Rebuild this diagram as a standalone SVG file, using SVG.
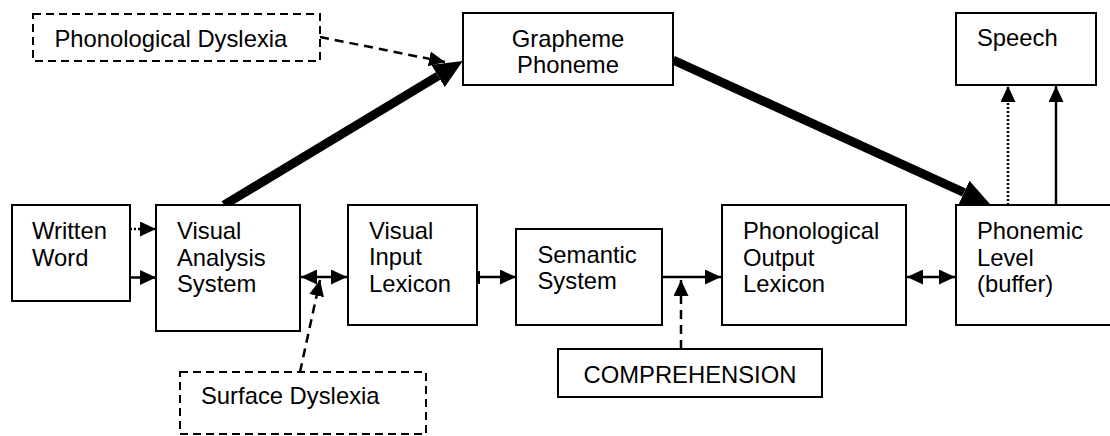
<svg xmlns="http://www.w3.org/2000/svg" width="1110" height="436" viewBox="0 0 1110 436">
  <style>
    .box { fill: #fff; stroke: #000; stroke-width: 2; }
    .dbox { fill: #fff; stroke: #000; stroke-width: 2; stroke-dasharray: 8 5; }
    text { font-family: "Liberation Sans", Arial, sans-serif; font-size: 23.8px; fill: #000; }
    .ln { fill: none; stroke: #000; stroke-width: 2.5; }
    .dash { stroke-dasharray: 9 6; }
    .dot { stroke-dasharray: 2 2; }
    .thick { fill: none; stroke: #000; stroke-width: 9; }
  </style>
  <defs>
    <marker id="ah" markerUnits="userSpaceOnUse" markerWidth="17" markerHeight="15" refX="16" refY="7.5" orient="auto-start-reverse">
      <path d="M0,0 L16,7.5 L0,15 Z" fill="#000"/>
    </marker>
    <marker id="bigah" markerUnits="userSpaceOnUse" markerWidth="30" markerHeight="26" refX="0" refY="13" orient="auto">
      <path d="M0,0 L29,13 L0,26 Z" fill="#000"/>
    </marker>
  </defs>

  <!-- connectors -->
  <g id="connectors">
    <!-- whole-word route, left to right -->
    <path class="ln dot" d="M130,229 L156,229" marker-end="url(#ah)"/>
    <path class="ln" d="M130,277.5 L156,277.5" marker-end="url(#ah)"/>
    <path class="ln" d="M301,277 L347,277" marker-start="url(#ah)" marker-end="url(#ah)"/>
    <rect x="477" y="271" width="3" height="13" fill="#000"/>
    <path class="ln" d="M477,277 L516,277" marker-end="url(#ah)"/>
    <path class="ln" d="M662,277 L721,277" marker-end="url(#ah)"/>
    <path class="ln" d="M907,277 L955,277" marker-start="url(#ah)" marker-end="url(#ah)"/>
    <!-- output to speech -->
    <path class="ln dot" d="M1008,205 L1008,86" marker-end="url(#ah)"/>
    <path class="ln" d="M1056,205 L1056,86" marker-end="url(#ah)"/>
    <!-- grapheme-phoneme route -->
    <path class="thick" d="M224,205 L438,76" marker-end="url(#bigah)"/>
    <path class="thick" d="M673,60 L964,192.5" marker-end="url(#bigah)"/>
    <!-- impairment and comprehension links -->
    <path class="ln dash" d="M320,37 L445,62" marker-end="url(#ah)"/>
    <path class="ln dash" d="M300,372 L320,280" marker-end="url(#ah)"/>
    <path class="ln dash" d="M681,349 L681,280" marker-end="url(#ah)"/>
  </g>

  <g id="written-word">
    <rect class="box" x="12" y="205" width="118" height="96"/>
    <text x="32" y="239">Written</text>
    <text x="32" y="265.7">Word</text>
  </g>

  <g id="visual-analysis">
    <rect class="box" x="156" y="205" width="144" height="126"/>
    <text x="177" y="239">Visual</text>
    <text x="177" y="265.7">Analysis</text>
    <text x="177" y="292.3">System</text>
  </g>

  <g id="visual-input-lexicon">
    <rect class="box" x="348" y="205" width="129" height="120"/>
    <text x="369" y="238.5">Visual</text>
    <text x="369" y="265.2">Input</text>
    <text x="369" y="292">Lexicon</text>
  </g>

  <g id="semantic-system">
    <rect class="box" x="516" y="229" width="146" height="96"/>
    <text x="537.5" y="262.5">Semantic</text>
    <text x="537.5" y="289.2">System</text>
  </g>

  <g id="phonological-output-lexicon">
    <rect class="box" x="722" y="205" width="184" height="120"/>
    <text x="743" y="239">Phonological</text>
    <text x="743" y="265.7">Output</text>
    <text x="743" y="292.3">Lexicon</text>
  </g>

  <g id="phonemic-level">
    <rect class="box" x="956" y="205" width="160" height="120"/>
    <text x="977" y="239">Phonemic</text>
    <text x="977" y="265.7">Level</text>
    <text x="977" y="291.8">(buffer)</text>
  </g>

  <g id="speech">
    <rect class="box" x="956" y="13" width="140" height="72"/>
    <text x="977" y="45.7">Speech</text>
  </g>

  <g id="grapheme-phoneme">
    <rect class="box" x="463" y="13" width="210" height="72"/>
    <text x="568" y="46.7" text-anchor="middle">Grapheme</text>
    <text x="568" y="73.3" text-anchor="middle">Phoneme</text>
  </g>

  <g id="phonological-dyslexia">
    <rect class="dbox" x="33" y="14" width="287" height="47"/>
    <text x="54.5" y="46.7">Phonological Dyslexia</text>
  </g>

  <g id="surface-dyslexia">
    <rect class="dbox" x="180" y="372" width="246" height="62"/>
    <text x="201" y="404">Surface Dyslexia</text>
  </g>

  <g id="comprehension">
    <rect class="box" x="558" y="349" width="264" height="48"/>
    <text x="583.5" y="382.7">COMPREHENSION</text>
  </g>
</svg>
